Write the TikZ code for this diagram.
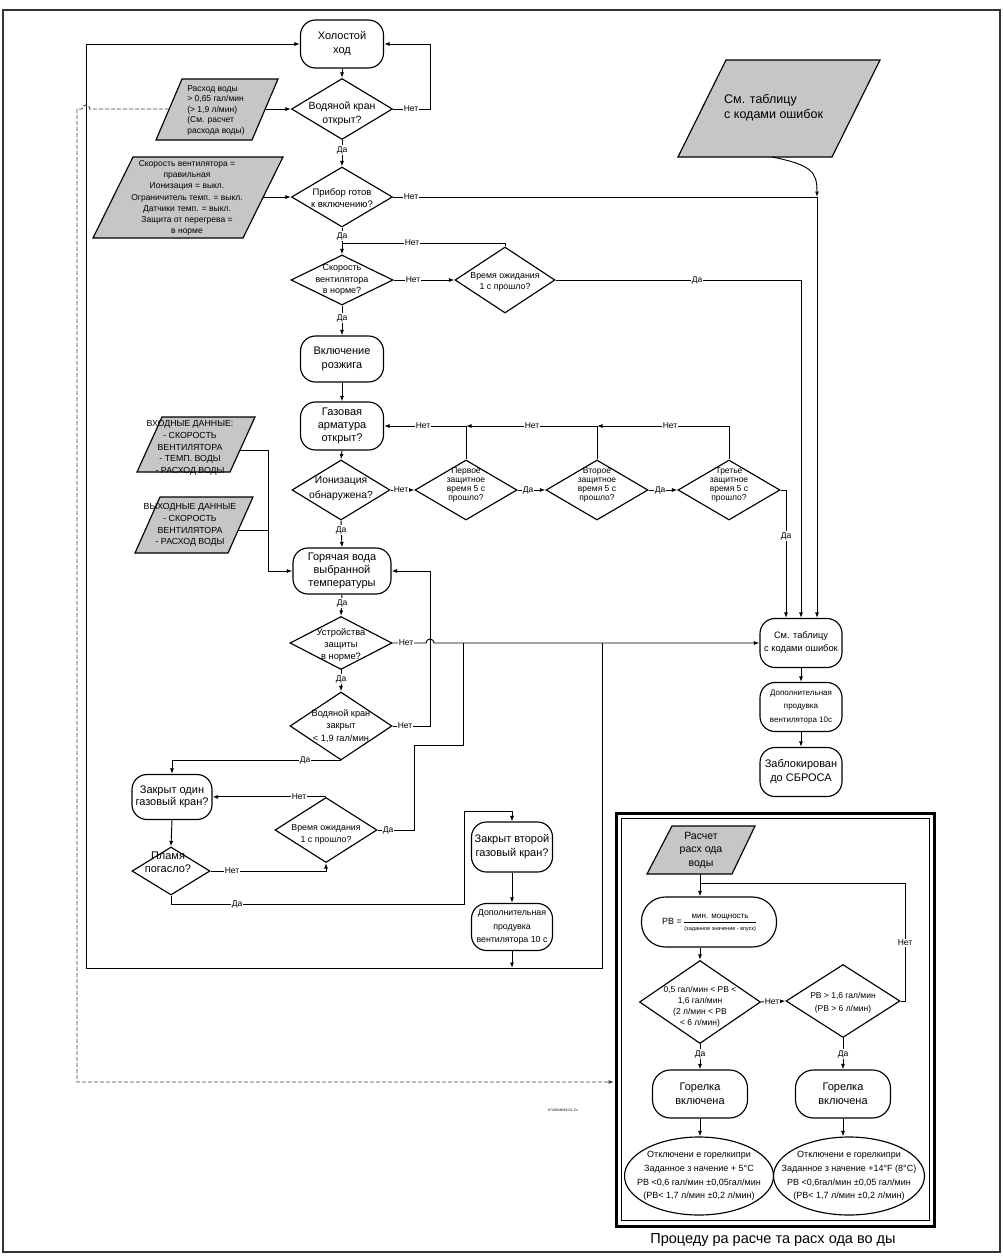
\documentclass[tikz,border=0pt]{standalone}
\usepackage{fontspec}
\setmainfont{Liberation Sans}
\usetikzlibrary{shapes.geometric,arrows.meta}
\definecolor{pgray}{RGB}{198,198,198}
\newcommand\fsz[2]{\fontsize{#1}{#2}\selectfont}
\begin{document}
\begin{tikzpicture}[x=1pt,y=-1pt,
 ln/.style={line width=0.95pt},
 arr/.style={line width=0.95pt,-{Latex[length=5.5pt,width=4pt]}},
 term/.style={draw,line width=1.15pt,rounded corners=15pt,align=center,inner sep=1pt},
 dia/.style={draw,line width=1.15pt,diamond,inner sep=0pt},
 ell/.style={draw,line width=1.15pt,ellipse,inner sep=0pt},
 tx/.style={align=center,inner sep=0pt},
 lbl/.style={fill=white,inner sep=1pt,font=\fsz{8.5}{10}},
 pg/.style={draw,line width=1.15pt,fill=pgray}]
\useasboundingbox (0,0) rectangle (1003,1256);
\draw[line width=1.6pt,black!80] (3,10) rectangle (1000,1252);

% ---------- main column ----------
\node[term,font=\fsz{11}{14},minimum width=83pt,minimum height=48pt] (idle) at (342,44) {Холостой\\ход};
\node[dia,minimum width=101pt,minimum height=61pt] (wtap) at (342,109) {};
\node[tx,font=\fsz{10.5}{14}] (wtapt) at (342,114) {Водяной кран\\открыт?};
\node[dia,minimum width=101pt,minimum height=60pt] (ready) at (342,197) {};
\node[tx,font=\fsz{9.5}{11.5}] (readyt) at (342,198) {Прибор готов\\к включению?};
\node[dia,minimum width=102pt,minimum height=50pt] (fan) at (342,280) {};
\node[tx,font=\fsz{9}{11.7}] (fant) at (342,280) {Скорость\\вентилятора\\в норме?};
\node[dia,minimum width=100pt,minimum height=66pt] (wait1) at (505,280) {};
\node[tx,font=\fsz{8.8}{10.5}] (wait1t) at (505,282) {Время ожидания\\1 с прошло?};
\node[term,font=\fsz{11}{13.5},minimum width=83pt,minimum height=46pt] (ign) at (342,359) {Включение\\розжига};
\node[term,font=\fsz{11}{13},minimum width=83pt,minimum height=48pt] (gas) at (342,426) {Газовая\\арматура\\открыт?};
\node[dia,minimum width=98pt,minimum height=60pt] (ion) at (341,490) {};
\node[tx,font=\fsz{10.3}{15}] (iont) at (341,489) {Ионизация\\обнаружена?};
\node[dia,minimum width=102pt,minimum height=60pt] (s1) at (466,490) {};
\node[tx,font=\fsz{8.5}{9.3}] (s1t) at (466,485) {Первое\\защитное\\время 5 с\\прошло?};
\node[dia,minimum width=102pt,minimum height=60pt] (s2) at (597,490) {};
\node[tx,font=\fsz{8.5}{9.3}] (s2t) at (597,485) {Второе\\защитное\\время 5 с\\прошло?};
\node[dia,minimum width=102pt,minimum height=60pt] (s3) at (729,490) {};
\node[tx,font=\fsz{8.5}{9.3}] (s3t) at (729,485) {Третье\\защитное\\время 5 с\\прошло?};
\node[term,font=\fsz{11}{13.3},minimum width=98pt,minimum height=46pt] (hot) at (342,571) {Горячая вода\\выбранной\\температуры};
\node[dia,minimum width=102pt,minimum height=53pt] (safe) at (341,643) {};
\node[tx,font=\fsz{9.3}{11.7}] (safet) at (341,645) {Устройства\\защиты\\в норме?};
\node[dia,minimum width=102pt,minimum height=68pt] (wclose) at (341,726) {};
\node[tx,font=\fsz{9.2}{12.5}] (wcloset) at (341,726) {Водяной кран\\закрыт\\< 1,9 гал/мин};
\node[term,font=\fsz{11}{12.5},minimum width=80pt,minimum height=45pt] (close1) at (172,797) {Закрыт один\\газовый кран?};
\node[dia,minimum width=102pt,minimum height=65pt] (wait2) at (326,830) {};
\node[tx,font=\fsz{8.8}{12}] (wait2t) at (326,834) {Время ожидания\\1 с прошло?};
\node[dia,minimum width=78pt,minimum height=48pt] (flame) at (171,871) {};
\node[tx,font=\fsz{11}{13}] (flamet) at (168,862) {Пламя\\погасло?};
\node[term,font=\fsz{11}{14},minimum width=81pt,minimum height=50pt] (close2) at (512,847) {Закрыт второй\\газовый кран?};
\node[term,font=\fsz{8.8}{13.3},minimum width=81pt,minimum height=47pt] (purge1) at (512,927) {Дополнительная\\продувка\\вентилятора 10 с};
\node[term,font=\fsz{9.3}{13},minimum width=82pt,minimum height=49pt] (err) at (801,643) {См. таблицу\\с кодами ошибок};
\node[term,font=\fsz{8}{13.5},minimum width=82pt,minimum height=49pt] (purge2) at (801,707) {Дополнительная\\продувка\\вентилятора 10с};
\node[term,font=\fsz{11}{14},minimum width=82pt,minimum height=49pt] (lock) at (801,772) {Заблокирован\\до СБРОСА};

% ---------- parallelograms ----------
\draw[pg] (182,79) -- (278,79) -- (252,140) -- (156,140) -- cycle;
\node[tx,align=left,font=\fsz{8.5}{10.5}] (p1t) at (216,110) {Расход воды\\> 0,65 гал/мин\\(> 1,9 л/мин)\\(См. расчет\\расхода воды)};
\coordinate (p1r) at (266,109);
\coordinate (p1l) at (169,109);
\draw[pg] (133,157) -- (283,157) -- (243,238) -- (93,238) -- cycle;
\node[tx,font=\fsz{8.5}{11.3}] (p2t) at (187,198) {Скорость вентилятора =\\правильная\\Ионизация = выкл.\\Ограничитель темп. = выкл.\\Датчики темп. = выкл.\\Защита от перегрева =\\в норме};
\coordinate (p2r) at (263,197);
\draw[pg] (162,417) -- (255,417) -- (230,472) -- (137,472) -- cycle;
\node[tx,font=\fsz{8.8}{11.7}] (p3t) at (190,448) {ВХОДНЫЕ ДАННЫЕ:\\- СКОРОСТЬ\\ВЕНТИЛЯТОРА\\- ТЕМП. ВОДЫ\\- РАСХОД ВОДЫ};
\coordinate (p3r) at (240,450);
\draw[pg] (160,497) -- (253,497) -- (228,553) -- (135,553) -- cycle;
\node[tx,font=\fsz{8.8}{11.7}] (p4t) at (190,525) {ВЫХОДНЫЕ ДАННЫЕ\\- СКОРОСТЬ\\ВЕНТИЛЯТОРА\\- РАСХОД ВОДЫ};
\coordinate (p4r) at (238,530);
\draw[pg] (726,60) -- (880,60) -- (832,157) -- (678,157) -- cycle;
\node[tx,align=left,anchor=west,font=\fsz{12.5}{15}] (p5t) at (724,108) {См. таблицу\\с кодами ошибок};
\coordinate (p5b) at (772,157);

% ---------- junctions ----------
\coordinate (j1) at (817,197);
\coordinate (j2) at (602,643);
\coordinate (j3) at (512,968);

% ---------- connectors ----------
\draw[arr] (idle.south) -- (wtap.north);
\draw[arr] (wtap.east) -- (430,109) |- (idle.east);
\node[lbl] (lb1) at (411,109) {Нет};
\draw[arr] (p1r) -- (wtap.west);
\draw[arr] (wtap.south) -- (ready.north);
\node[lbl] (lb2) at (342,150) {Да};
\draw[arr] (p2r) -- (ready.west);
\draw[ln] (ready.east) -- (j1);
\node[lbl] (lb3) at (411,197) {Нет};
\draw[arr] (p5b) .. controls (812,165) and (817,172) .. (j1);
\draw[arr] (j1) -- ([xshift=16pt]err.north);
\draw[arr] (ready.south) -- (fan.north);
\node[lbl] (lb4) at (342,236) {Да};
\draw[ln] (wait1.north) |- (342,243);
\node[lbl] (lb5) at (412,243) {Нет};
\draw[arr] (fan.east) -- (wait1.west);
\node[lbl] (lb6) at (413,280) {Нет};
\draw[arr] (wait1.east) -| (err.north);
\node[lbl] (lb7) at (697,280) {Да};
\draw[arr] (fan.south) -- (ign.north);
\node[lbl] (lb8) at (342,318) {Да};
\draw[arr] (ign.south) -- (gas.north);
\draw[arr] (gas.south) -- (ion.north);
\draw[arr] (ion.east) -- (s1.west);
\node[lbl,inner sep=0.3pt] (lb9) at (401,490) {Нет};
\draw[arr] (s1.east) -- (s2.west);
\node[lbl] (lb10) at (528,490) {Да};
\draw[arr] (s2.east) -- (s3.west);
\node[lbl] (lb11) at (660,490) {Да};
\draw[arr] (s3.east) -| ([xshift=-15pt]err.north);
\node[lbl] (lb12) at (786,536) {Да};
\draw[arr] (s3.north) |- (597,426);
\node[lbl] (lb13) at (670,426) {Нет};
\draw[arr] (s2.north) |- (466,426);
\node[lbl] (lb14) at (532,426) {Нет};
\draw[arr] (s1.north) |- (gas.east);
\node[lbl] (lb15) at (423,426) {Нет};
\draw[arr] (ion.south) -- (hot.north);
\node[lbl] (lb16) at (341,530) {Да};
\draw[arr] (p3r) -- (268,450) |- (hot.west);
\draw[ln] (p4r) -- (268,530);
\draw[arr] (hot.south) -- (safe.north);
\node[lbl] (lb17) at (342,603) {Да};
\draw[arr] (safe.east) -- (426,643) arc[start angle=180,end angle=0,radius=4pt] -- (err.west);
\node[lbl] (lb18) at (406,643) {Нет};
\draw[arr] (j2) |- (86,968) |- (idle.west);
\draw[arr] (safe.south) -- (wclose.north);
\node[lbl] (lb19) at (341,679) {Да};
\draw[arr] (wclose.east) -- (430,726) |- (hot.east);
\node[lbl] (lb20) at (405,726) {Нет};
\draw[arr] (wclose.south) -| (close1.north);
\node[lbl] (lb21) at (305,760) {Да};
\draw[ln] (wait2.east) -- (414,830) |- (463,745) -- (463,643);
\node[lbl] (lb22) at (388,830) {Да};
\draw[arr] (wait2.north) -- (wait2.north -| close1.east);
\node[lbl] (lb23) at (299,797) {Нет};
\draw[arr] (close1.south) -- (flame.north);
\draw[arr] (flame.east) -| (wait2.south);
\node[lbl] (lb24) at (232,871) {Нет};
\draw[arr] (flame.south) |- (464,904) |- (512,811) -- (close2.north);
\node[lbl] (lb25) at (237,904) {Да};
\draw[arr] (close2.south) -- (purge1.north);
\draw[arr] (purge1.south) -- (j3);
\draw[arr] (err.south) -- (purge2.north);
\draw[arr] (purge2.south) -- (lock.north);

% ---------- calculation box ----------
\draw[line width=3pt] (616,813.5) rectangle (934,1226);
\draw[line width=1pt] (621,818) rectangle (929,1220);
\coordinate (boxl) at (614,1082);
\draw[ln,black!75,dash pattern=on 4pt off 2pt,-{Latex[length=5.5pt,width=4pt]}] (p1l) -- (90,109) arc[start angle=0,end angle=180,radius=4pt] -- (77,109) -- (77,1082) -- (boxl);
\node[font=\fsz{3.5}{4},inner sep=0pt] (code) at (563,1110) {6720648049-01.2V};

\draw[pg] (672,826) -- (755,826) -- (732,874) -- (647,874) -- cycle;
\node[tx,font=\fsz{10.5}{13.5}] (calct) at (701,850) {Расчет\\расх ода\\воды};
\coordinate (calcb) at (700,874);
\node[draw,line width=1.15pt,rounded corners=24pt,minimum width=135pt,minimum height=50pt,inner sep=2pt] (pb) at (709,922)
 {\fsz{9}{11}РВ = \begin{tabular}{@{}c@{}}\fsz{8}{9}мин. мощность\\[1pt]\hline\rule{0pt}{7pt}\fsz{5.5}{6}(заданное значение - впуск)\end{tabular}};
\node[dia,minimum width=121pt,minimum height=83pt] (lt) at (700,1002) {};
\node[tx,font=\fsz{8.5}{11}] (ltt) at (700,1007) {0,5 гал/мин < РВ <\\1,6 гал/мин\\(2 л/мин < РВ\\< 6 л/мин)};
\node[dia,minimum width=114pt,minimum height=73pt] (gt) at (843,1001) {};
\node[tx,font=\fsz{8.5}{13}] (gtt) at (843,1003) {РВ > 1,6 гал/мин\\(РВ > 6 л/мин)};
\node[term,rounded corners=18pt,font=\fsz{11}{13.5},minimum width=95pt,minimum height=48pt] (burn1) at (700,1094) {Горелка\\включена};
\node[term,rounded corners=18pt,font=\fsz{11}{13.5},minimum width=95pt,minimum height=48pt] (burn2) at (843,1094) {Горелка\\включена};
\node[ell,minimum width=149pt,minimum height=78pt] (off1) at (699,1176) {};
\node[tx,font=\fsz{9}{13.8}] (off1t) at (699,1176) {Отключени е горелкипри\\Заданное з начение + 5°C\\РВ <0,6 гал/мин ±0,05гал/мин\\(РВ< 1,7 л/мин ±0,2 л/мин)};
\node[ell,minimum width=151pt,minimum height=78pt] (off2) at (849,1176) {};
\node[tx,font=\fsz{9}{13.8}] (off2t) at (849,1176) {Отключени е горелкипри\\Заданное з начение +14°F (8°C)\\РВ <0,6гал/мин ±0,05 гал/мин\\(РВ< 1,7 л/мин ±0,2 л/мин)};
\node[tx,font=\fsz{14.5}{16}] (cap) at (773,1240) {Процеду ра расче та расх ода во ды};

\draw[arr] (calcb) -- (pb.north -| calcb);
\draw[arr] (pb.south -| lt.north) -- (lt.north);
\draw[arr] (lt.east) -- (gt.west);
\node[lbl,inner sep=0.3pt] (lb26) at (772,1002) {Нет};
\draw[ln] (gt.east) -- (905,1001) |- (700,883);
\node[lbl] (lb27) at (905,943) {Нет};
\draw[arr] (lt.south) -- (burn1.north);
\node[lbl] (lb28) at (700,1054) {Да};
\draw[arr] (gt.south) -- (burn2.north);
\node[lbl] (lb29) at (843,1054) {Да};
\draw[arr] (burn1.south) -- (burn1.south |- off1.north);
\draw[arr] (burn2.south) -- (burn2.south |- off2.north);
\end{tikzpicture}
\end{document}
